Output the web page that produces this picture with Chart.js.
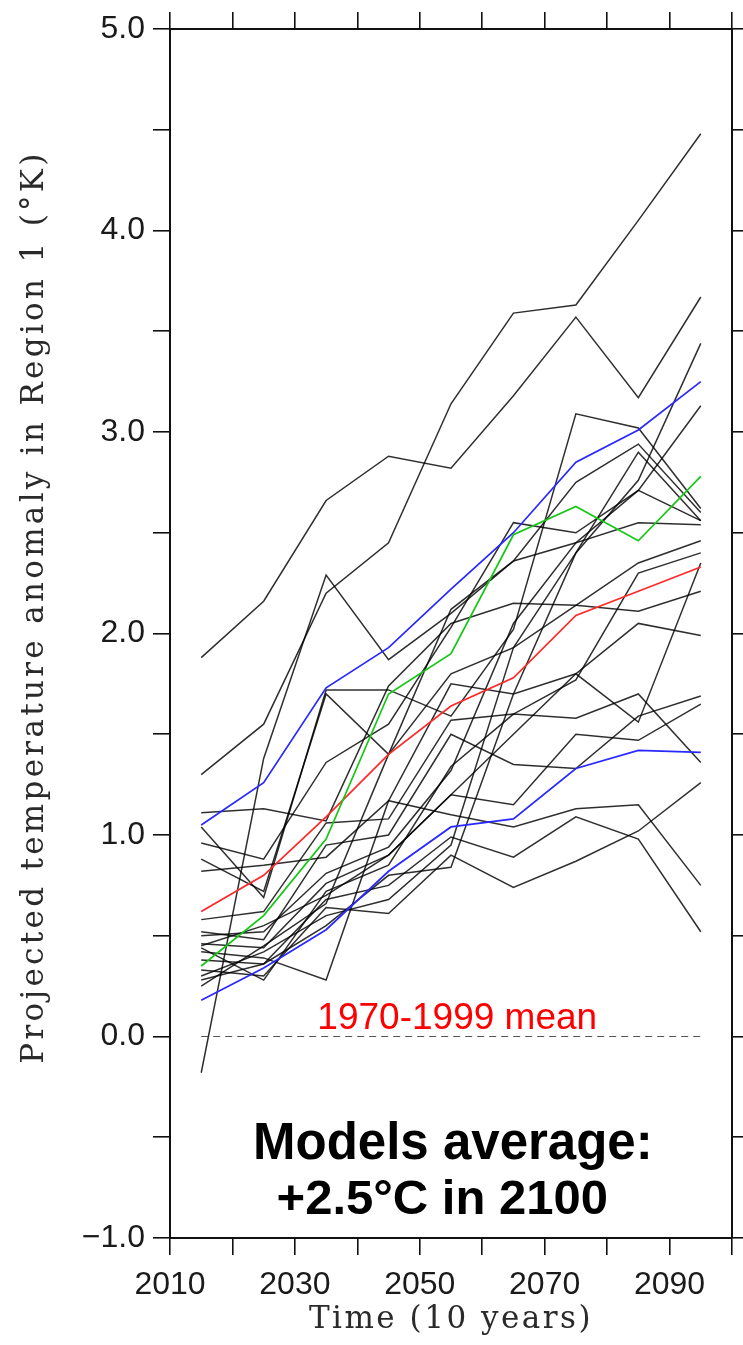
<!DOCTYPE html>
<html>
<head>
<meta charset="utf-8">
<script src="https://cdn.jsdelivr.net/npm/chart.js@4.4.1/dist/chart.umd.min.js"></script>
<style>
  html, body { margin: 0; padding: 0; background: #fff; }
</style>
</head>
<body>
<canvas id="chart" width="743" height="1345"></canvas>
<script>
// decade midpoints
const years = [2015, 2025, 2035, 2045, 2055, 2065, 2075, 2085, 2095]

// coloured curves
const blueHigh = [1.05, 1.26, 1.73, 1.93, 2.22, 2.50, 2.85, 3.01, 3.25]
const blueLow  = [0.18, 0.34, 0.53, 0.82, 1.04, 1.08, 1.33, 1.42, 1.41]
const greenRun = [0.35, 0.60, 0.98, 1.70, 1.90, 2.49, 2.63, 2.46, 2.78]
const redMean  = [0.62, 0.80, 1.09, 1.40, 1.64, 1.78, 2.09, 2.21, 2.33]

// single model runs (black)
const m01 = [1.88, 2.16, 2.66, 2.88, 2.82, 3.18, 3.57, 3.17, 3.67]
const m02 = [1.30, 1.55, 2.20, 2.45, 3.14, 3.59, 3.63, 4.05, 4.48]
const m03 = [-0.18, 1.38, 2.29, 1.87, 2.10, 2.36, 2.75, 2.94, 2.60]
const m04 = [1.11, 1.13, 1.07, 1.74, 2.05, 2.15, 2.14, 2.11, 2.21]
const m05 = [1.04, 0.69, 1.72, 1.72, 1.59, 2.02, 3.09, 3.02, 2.62]
const m06 = [0.96, 0.88, 1.36, 1.55, 2.03, 2.55, 2.50, 2.71, 3.13]
const m07 = [0.88, 0.72, 1.70, 1.40, 1.80, 1.93, 2.40, 2.76, 3.44]
const m08 = [0.82, 0.85, 0.89, 1.17, 1.75, 1.70, 1.80, 2.05, 1.99]
const m09 = [0.58, 0.62, 1.06, 1.08, 1.57, 1.60, 1.77, 2.30, 2.40]
const m10 = [0.52, 0.48, 0.95, 1.00, 1.50, 1.35, 1.33, 1.59, 1.69]
const m11 = [0.50, 0.52, 0.81, 0.94, 1.32, 2.05, 2.45, 2.55, 2.54]
const m12 = [0.46, 0.44, 0.76, 0.90, 1.20, 1.15, 1.50, 1.47, 1.65]
const m13 = [0.44, 0.28, 0.72, 0.85, 1.34, 1.60, 1.58, 1.70, 1.36]
const m14 = [0.42, 0.39, 0.28, 1.17, 1.10, 1.04, 1.13, 1.15, 0.75]
const m15 = [0.38, 0.36, 0.68, 0.75, 0.99, 0.89, 1.09, 0.98, 0.52]
const m16 = [0.33, 0.30, 0.64, 0.61, 0.90, 0.74, 0.87, 1.02, 1.26]
const m17 = [0.30, 0.42, 0.60, 0.68, 0.95, 1.93, 2.14, 2.35, 2.46]
const m18 = [0.28, 0.36, 0.55, 0.80, 0.84, 1.70, 2.40, 2.90, 2.56]
const m19 = [0.25, 0.45, 0.66, 1.40, 2.12, 2.36, 2.45, 2.71, 2.56]
const m20 = [0.45, 0.55, 0.70, 0.90, 1.20, 1.50, 1.80, 1.56, 2.35]
const blackRuns = [m01, m02, m03, m04, m05, m06, m07, m08, m09, m10,
                   m11, m12, m13, m14, m15, m16, m17, m18, m19, m20]

const baseline = [0, 0, 0, 0, 0, 0, 0, 0, 0]

const xTickLabels = [2010, 2030, 2050, 2070, 2090]
const yTickLabels = [-1, 0, 1, 2, 3, 4, 5]

const yTitle = 'Projected temperature anomaly in Region 1 (\u00b0K)'
const xTitle = 'Time (10 years)'
const meanNote = '1970-1999 mean'
const avgNote = ['Models average:', '+2.5\u00b0C in 2100']

const pts = vals => years.map((yr, i) => ({ x: yr, y: vals[i] }))

const lineSet = (vals, color, width) => ({
    data: pts(vals),
    borderColor: color,
    borderWidth: width,
    pointRadius: 0,
    tension: 0,
    fill: false
})

// first dataset is painted last, so coloured lines go first
const datasets = [
    lineSet(greenRun, 'rgb(20,200,20)', 1.7),
    lineSet(redMean, 'rgb(255,40,40)', 1.7),
    lineSet(blueHigh, 'rgb(40,40,255)', 1.7),
    lineSet(blueLow, 'rgb(40,40,255)', 1.7),
    ...blackRuns.map(r => lineSet(r, 'rgba(0,0,0,0.82)', 1.5)),
    Object.assign(lineSet(baseline, '#555', 1.2), { borderDash: [7, 5] })
]

const tickFont = { family: '"Liberation Sans", Arial, sans-serif', size: 32 }
const fmtY = v => (v < 0 ? '\u2212' : '') + Math.abs(v).toFixed(1)

const frame = {
    border: { display: true, color: '#111', width: 2 },
    grid: { drawOnChartArea: false, drawTicks: true, tickLength: 17, tickColor: '#111', lineWidth: 1.6 }
}

// axis titles and notes
const notes = {
    id: 'notes',
    afterDraw(chart) {
        const { ctx, scales: { x, y } } = chart
        ctx.save()
        ctx.fillStyle = '#2a2a2a'
        ctx.font = '31px "DejaVu Serif", serif'
        ctx.textAlign = 'center'
        ctx.textBaseline = 'middle'
        ctx.letterSpacing = '2.5px'
        ctx.fillText(xTitle, (x.left + x.right) / 2, 1320)
        ctx.letterSpacing = '3.3px'
        ctx.translate(35, 607)
        ctx.rotate(-Math.PI / 2)
        ctx.fillText(yTitle, 0, 0)
        ctx.restore()

        ctx.save()
        ctx.textAlign = 'center'
        ctx.textBaseline = 'alphabetic'
        ctx.fillStyle = 'rgb(255,0,0)'
        ctx.font = '37px "Liberation Sans", Arial, sans-serif'
        ctx.fillText(meanNote, x.getPixelForValue(2056), y.getPixelForValue(0.035))
        ctx.fillStyle = '#000'
        ctx.font = 'bold 51px "Liberation Sans", Arial, sans-serif'
        ctx.fillText(avgNote[0], x.getPixelForValue(2055.3), y.getPixelForValue(-0.61))
        ctx.font = 'bold 49px "Liberation Sans", Arial, sans-serif'
        ctx.fillText(avgNote[1], x.getPixelForValue(2053.6), y.getPixelForValue(-0.88))
        ctx.restore()
    }
}

new Chart(document.getElementById('chart'), {
    type: 'line',
    data: { datasets },
    options: {
        responsive: false,
        animation: false,
        devicePixelRatio: 1,
        layout: { padding: 0 },
        plugins: { legend: { display: false }, tooltip: { enabled: false } },
        scales: {
            x: {
                type: 'linear', position: 'bottom', min: 2010, max: 2100,
                ...frame,
                ticks: {
                    stepSize: 10, autoSkip: false, maxRotation: 0, padding: 11,
                    color: '#1a1a1a', font: tickFont,
                    callback: v => xTickLabels.includes(v) ? String(v) : ''
                },
                afterFit: s => { s.height = 107 }
            },
            xTop: {
                type: 'linear', position: 'top', min: 2010, max: 2100,
                ...frame,
                ticks: { display: false, stepSize: 10 },
                afterFit: s => { s.height = 29 }
            },
            y: {
                type: 'linear', position: 'left', min: -1, max: 5,
                ...frame,
                ticks: {
                    stepSize: 0.5, autoSkip: false, padding: 8,
                    color: '#1a1a1a', font: tickFont,
                    callback: v => yTickLabels.includes(v) ? fmtY(v) : ''
                },
                afterFit: s => { s.width = 170 }
            },
            yRight: {
                type: 'linear', position: 'right', min: -1, max: 5,
                ...frame,
                ticks: { display: false, stepSize: 0.5 },
                afterFit: s => { s.width = 6 }
            }
        }
    },
    plugins: [notes]
})
</script>
</body>
</html>
